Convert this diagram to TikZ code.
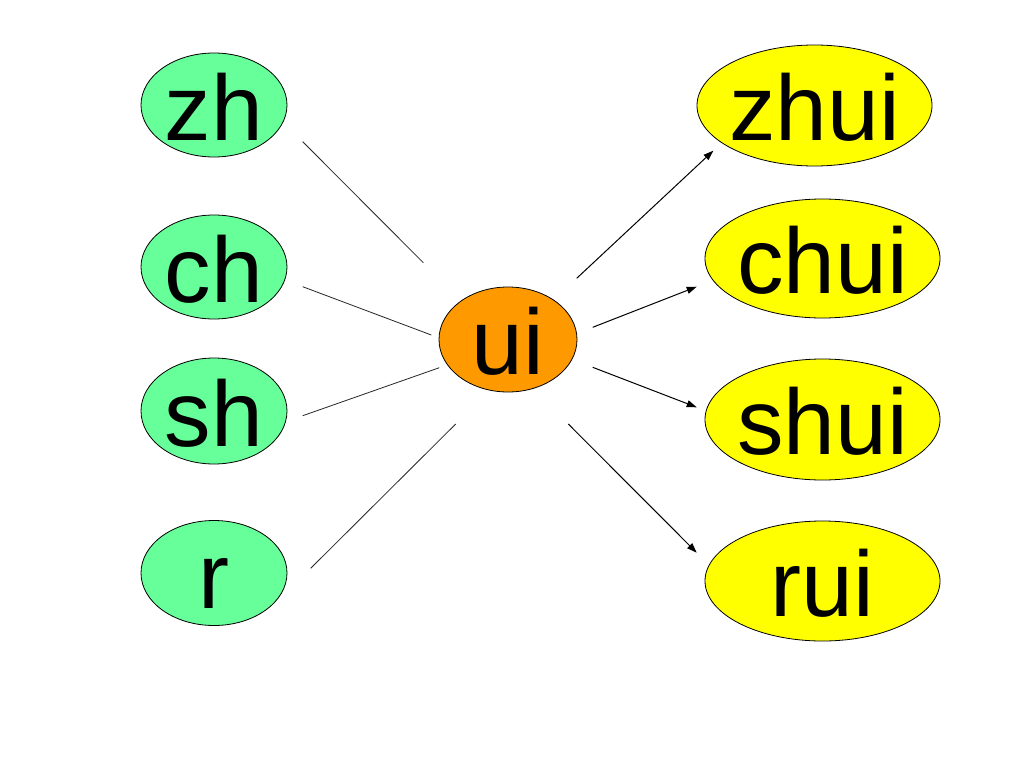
\documentclass[tikz,border=0pt]{standalone}
\usepackage{fontspec}
\setmainfont{Liberation Sans}
\usetikzlibrary{shapes.geometric,arrows.meta}
\definecolor{leafgreen}{HTML}{66FF99}
\definecolor{huborange}{HTML}{FF9900}
\definecolor{syllyellow}{HTML}{FFFF00}
\begin{document}
\begin{tikzpicture}[x=1pt,y=-1pt,
  blob/.style={ellipse,draw=black,line width=0.8pt,inner sep=0pt,
    text height=70pt,text depth=0pt,
    font=\fontsize{93}{93}\selectfont},
  initbox/.style={blob,fill=leafgreen,minimum width=146pt},
  hubbox/.style={blob,fill=huborange,minimum width=138pt,minimum height=105pt},
  syllbox/.style={blob,fill=syllyellow,minimum width=235pt},
  plainline/.style={line width=0.8pt,draw=black!85},
  arrowline/.style={line width=1pt,draw=black,-{Triangle[length=10pt,width=7pt]}}
]
\useasboundingbox (0,0) rectangle (1024,768);
\fill[white] (0,0) rectangle (1024,768);

% initials
\node[initbox,minimum height=104pt] (zh) at (214,105) {\makebox[0pt]{zh}};
\node[initbox,minimum height=104pt] (ch) at (214,267) {\makebox[0pt]{ch}};
\node[initbox,minimum height=106pt] (sh) at (214,411) {\makebox[0pt]{sh}};
\node[initbox,minimum height=105pt] (r)  at (214,573) {\makebox[0pt]{r}};

% final
\node[hubbox] (ui) at (508,339.5) {\makebox[0pt]{ui}};

% syllables
\node[syllbox,minimum height=121pt] (zhui) at (814.5,105.5) {\makebox[0pt]{zhui}};
\node[syllbox,minimum height=119pt] (chui) at (822.5,258.5) {\makebox[0pt]{chui}};
\node[syllbox,minimum height=121pt] (shui) at (822.5,419.5) {\makebox[0pt]{shui}};
\node[syllbox,minimum height=120pt] (rui)  at (822.5,581) {\makebox[0pt]{rui}};

% connector end points
\coordinate (zhA) at (302.7,141.7);  \coordinate (zhB) at (423.3,262.7);
\coordinate (chA) at (302.7,286.7);  \coordinate (chB) at (431.3,335);
\coordinate (shA) at (302.7,415.7);  \coordinate (shB) at (439.3,367.7);
\coordinate (rA)  at (310.7,568.3);  \coordinate (rB)  at (455.7,424);

\coordinate (zhuiA) at (576.7,278.3); \coordinate (zhuiB) at (713.3,150.7);
\coordinate (chuiA) at (592.7,327.3); \coordinate (chuiB) at (696.7,286.7);
\coordinate (shuiA) at (592.7,367.3); \coordinate (shuiB) at (696.7,407.3);
\coordinate (ruiA)  at (568.3,424);   \coordinate (ruiB)  at (696.7,552.7);

\draw[plainline] (zhA) -- (zhB);
\draw[plainline] (chA) -- (chB);
\draw[plainline] (shA) -- (shB);
\draw[plainline] (rA) -- (rB);

\draw[arrowline] (zhuiA) -- (zhuiB);
\draw[arrowline] (chuiA) -- (chuiB);
\draw[arrowline] (shuiA) -- (shuiB);
\draw[arrowline] (ruiA) -- (ruiB);
\end{tikzpicture}
\end{document}
